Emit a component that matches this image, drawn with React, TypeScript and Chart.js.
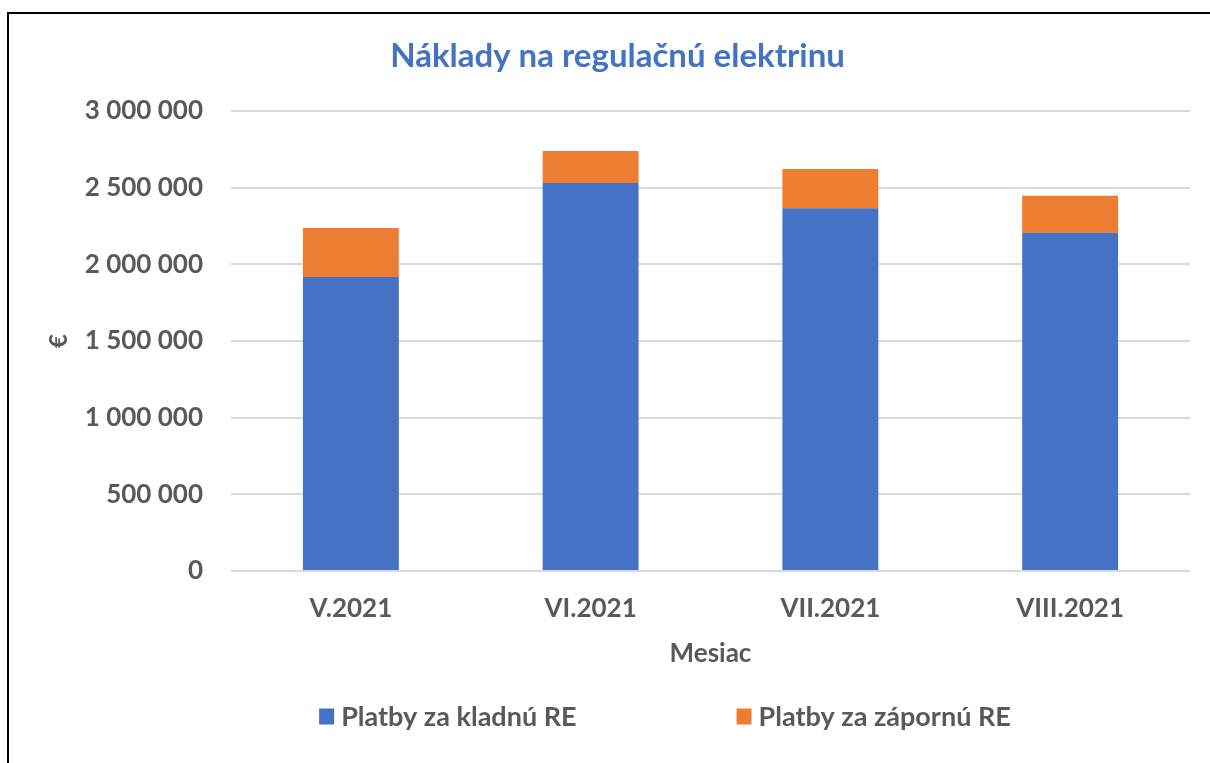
import React, { useEffect, useRef } from "react";
import { Chart, registerables } from "chart.js";

Chart.register(...registerables);

const categories = ["V.2021", "VI.2021", "VII.2021", "VIII.2021"];
const positiveRE = [1917000, 2530000, 2365000, 2206000];
const negativeRE = [320000, 209000, 257000, 242000];
const seriesNames = ["Platby za kladnú RE", "Platby za zápornú RE"];
const seriesColors = ["#4472C4", "#ED7D31"];
const chartTitle = "Náklady na regulačnú elektrinu";
const yTitle = "€";
const xTitle = "Mesiac";

const FONT = "Lato, 'Open Sans', sans-serif";
const GRAY = "#595959";

const fmt = (v: number) => String(v).replace(/\B(?=(\d{3})+(?!\d))/g, " ");

const customLegend = {
  id: "customLegend",
  afterDraw(chart: any) {
    const ctx = chart.ctx;
    const ds = chart.data.datasets;
    ctx.save();
    ctx.font = `bold 27px ${FONT}`;
    ctx.textBaseline = "middle";
    ctx.textAlign = "left";
    const box = 15;
    const boxGap = 7;
    const itemGap = 160;
    const widths = ds.map((d: any) => box + boxGap + ctx.measureText(d.label).width);
    const total = widths.reduce((a: number, b: number) => a + b, 0) + itemGap * (ds.length - 1);
    const centerX = 665;
    const y = 717;
    let x = centerX - total / 2;
    ds.forEach((d: any, i: number) => {
      ctx.fillStyle = d.backgroundColor;
      ctx.fillRect(x, y - box / 2 - 1, box, box + 1);
      ctx.fillStyle = GRAY;
      ctx.fillText(d.label, x + box + boxGap, y);
      x += widths[i] + itemGap;
    });
    ctx.restore();
  },
};

export default function App() {
  const ref = useRef<HTMLCanvasElement | null>(null);
  useEffect(() => {
    if (!ref.current) return;
    const chart = new Chart(ref.current, {
      type: "bar",
      data: {
        labels: categories,
        datasets: [
          { label: seriesNames[0], data: positiveRE, backgroundColor: seriesColors[0], barPercentage: 0.4, categoryPercentage: 1 },
          { label: seriesNames[1], data: negativeRE, backgroundColor: seriesColors[1], barPercentage: 0.4, categoryPercentage: 1 },
        ],
      },
      options: {
        responsive: false,
        animation: false,
        devicePixelRatio: 1,
        layout: { padding: { top: 0, left: 45, right: 20, bottom: 92 } },
        plugins: {
          legend: { display: false },
          tooltip: { enabled: false },
          title: {
            display: true,
            text: chartTitle,
            color: "#4472C4",
            font: { family: FONT, size: 33, weight: "bold", lineHeight: 1.2 },
            padding: { top: 37, bottom: 34.4 },
          },
        },
        scales: {
          x: {
            stacked: true,
            grid: { display: false, drawTicks: false },
            border: { display: false },
            ticks: { color: GRAY, font: { family: FONT, size: 26, weight: "bold", lineHeight: 1.2 }, padding: 22, maxRotation: 0, autoSkip: false },
            title: { display: true, text: xTitle, color: GRAY, font: { family: FONT, size: 26, weight: "bold", lineHeight: 1.2 }, padding: { top: 0, bottom: 2 } },
            afterFit: (s: any) => { s.height = 100; },
          },
          y: {
            stacked: true,
            min: 0,
            max: 3000000,
            ticks: { stepSize: 500000, color: GRAY, font: { family: FONT, size: 26, weight: "bold" }, padding: 28, callback: (v: any) => fmt(Number(v)) },
            grid: { color: "#D9D9D9", lineWidth: 2, drawTicks: false },
            border: { display: false },
            title: { display: true, text: yTitle, color: GRAY, font: { family: FONT, size: 24, weight: "bold", lineHeight: 1.2 }, padding: { top: 0, bottom: 0 } },
            afterFit: (s: any) => { s.width = 186; },
          },
        },
      },
      plugins: [customLegend],
    });
    return () => chart.destroy();
  }, []);
  return (
    <div style={{ position: "fixed", left: 0, top: 0, width: 1210, height: 763, overflow: "hidden", background: "#fff" }}>
      <div style={{ position: "absolute", left: 7, top: 12, width: 1400, height: 1000, border: "2px solid #000", boxSizing: "border-box" }} />
      <canvas ref={ref} width={1210} height={763} style={{ position: "absolute", left: 0, top: 0 }} />
    </div>
  );
}
